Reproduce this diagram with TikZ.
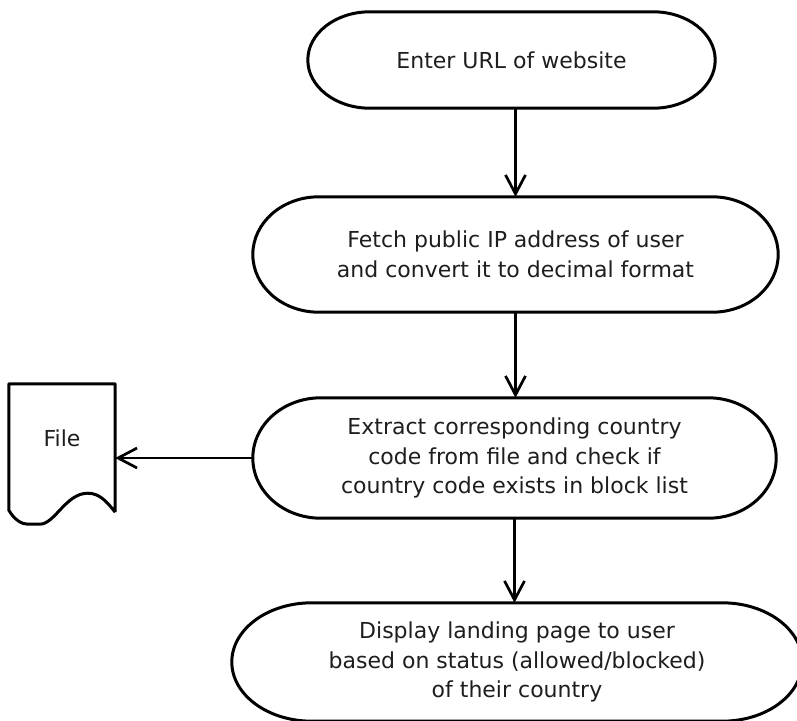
\documentclass[tikz,border=0pt]{standalone}
\usepackage{fontspec}
\setmainfont{DejaVu Sans}
\usetikzlibrary{arrows.meta,calc}
\definecolor{ink}{HTML}{1E1E1E}
\newcommand\termoutline[2]{%
  \draw[outline] let \p1=(#1.north west), \p2=(#1.south east) in
    ({\x1+#2pt},\y1) -- ({\x2-#2pt},\y1)
    arc[start angle=90,end angle=-90,x radius=#2pt,y radius={(\y1-\y2)/2}]
    -- ({\x1+#2pt},\y2)
    arc[start angle=270,end angle=90,x radius=#2pt,y radius={(\y1-\y2)/2}] -- cycle;}
\begin{document}
\begin{tikzpicture}[x=1pt,y=1pt,
  font=\fontsize{22}{29.5}\selectfont, text=ink,
  box/.style={draw=none, inner sep=0pt, align=center},
  outline/.style={draw=black, line width=3pt, line join=round},
  arr/.style={draw=black, line width=2.7pt, -{Straight Barb[length=19pt,width=20pt]}}]
\useasboundingbox (0,0) rectangle (797,-720);
\fill[white] (0,0) rectangle (797,-720);

\node[box, minimum width=407pt, minimum height=96pt] (n1) at (511.5,-60) {Enter URL of website};
\node[box, minimum width=525pt, minimum height=115pt] (n2) at (515.5,-254.5)
  {Fetch public IP address of user\\and convert it to decimal format};
\node[box, minimum width=523pt, minimum height=120pt] (n3) at (514.5,-458)
  {Extract corresponding country\\code from file and check if\\country code exists in block list};
\node[box, minimum width=570pt, minimum height=118pt] (n4) at (517,-662)
  {Display landing page to user\\based on status (allowed/blocked)\\of their country};
\node[box, minimum width=106pt, minimum height=108pt] (file) at (62,-438) {File};

\termoutline{n1}{62}
\termoutline{n2}{66}
\termoutline{n3}{68}
\termoutline{n4}{80}

\draw[outline] ([yshift=-20pt]file.south east) -- (file.north east) -- (file.north west)
  -- ([yshift=-18pt]file.south west)
  .. controls +(6,-10) and +(-6,0) .. ([shift={(19pt,-32pt)}]file.south west)
  -- ([shift={(31pt,-32pt)}]file.south west)
  .. controls +(15,0) and +(-22,0) .. ([shift={(79pt,-1pt)}]file.south west)
  .. controls +(12,0) and +(-8,10) .. ([yshift=-20pt]file.south east);

\draw[arr] (n2.north |- n1.south) -- (n2.north);
\draw[arr] (n2.south) -- (n2.south |- n3.north);
\draw[arr] (n3.south) -- (n3.south |- n4.north);
\draw[arr] (n3.west) -- (n3.west -| file.east);
\end{tikzpicture}
\end{document}
